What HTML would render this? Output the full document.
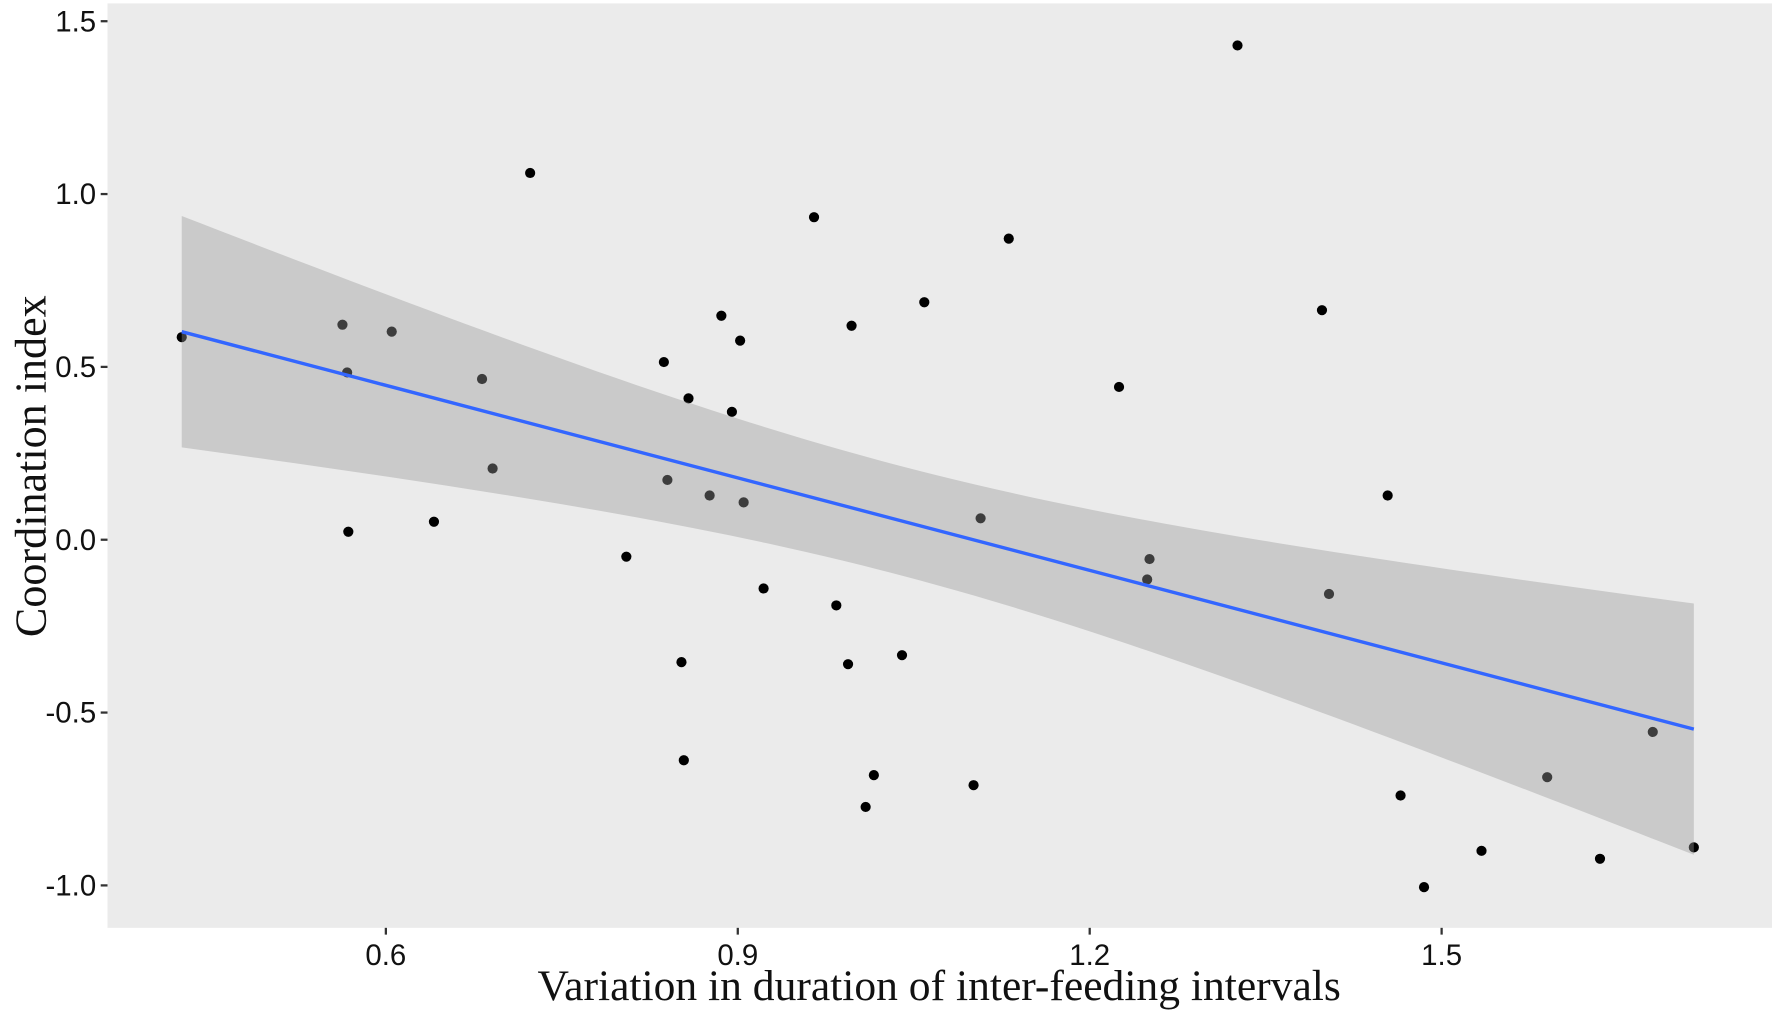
<!DOCTYPE html>
<html><head><meta charset="utf-8"><style>
body{margin:0;background:#fff;width:1772px;height:1011px;overflow:hidden}
svg{display:block}
</style></head><body>
<svg id="chart" width="1772" height="1011" viewBox="0 0 1566 893.5" preserveAspectRatio="none"></svg>
<script>
const xVals=[0.426,0.563,0.567,0.568,0.605,0.641,0.682,0.691,0.723,0.805,0.837,0.840,0.852,0.854,0.858,0.876,0.886,0.895,0.902,0.905,0.922,0.965,0.984,0.994,0.997,1.009,1.016,1.040,1.059,1.101,1.107,1.131,1.225,1.249,1.251,1.326,1.398,1.404,1.454,1.465,1.485,1.534,1.590,1.635,1.680,1.715];
const yVals=[0.586,0.622,0.484,0.023,0.602,0.052,0.465,0.206,1.061,-0.049,0.514,0.173,-0.354,-0.638,0.409,0.128,0.648,0.370,0.576,0.108,-0.141,0.933,-0.190,-0.360,0.619,-0.773,-0.681,-0.334,0.687,-0.710,0.062,0.871,0.442,-0.115,-0.056,1.430,0.664,-0.157,0.128,-0.740,-1.005,-0.900,-0.687,-0.923,-0.556,-0.890];
const xTicks=[0.6,0.9,1.2,1.5];
const xTickLabels=["0.6","0.9","1.2","1.5"];
const yTicks=[-1.0,-0.5,0.0,0.5,1.0,1.5];
const yTickLabels=["-1.0","-0.5","0.0","0.5","1.0","1.5"];

const NS="http://www.w3.org/2000/svg";
const svg=document.getElementById('chart');
const P={l:95,t:3,r:1566,b:820};
const sx=v=>341+(v-0.6)*1036.7;
const sy=v=>477-v*305.5;
function mk(tag,attrs,parent){const e=document.createElementNS(NS,tag);for(const k in attrs)e.setAttribute(k,attrs[k]);(parent||svg).appendChild(e);return e;}

const bg=mk('rect',{x:P.l,y:P.t,width:P.r-P.l,height:P.b-P.t,fill:'#ebebeb'});



xTicks.forEach((t,i)=>{
  const tk=mk('line',{x1:sx(t),x2:sx(t),y1:P.b,y2:P.b+6,stroke:'#333','stroke-width':2});
  
  
  const lb=mk('text',{x:sx(t),y:P.b+33,'text-anchor':'middle','font-family':'Liberation Sans, sans-serif','font-size':26,fill:'#111'});
  lb.textContent=xTickLabels[i];
  
  
});
yTicks.forEach((t,i)=>{
  const tk=mk('line',{x1:P.l-6,x2:P.l,y1:sy(t),y2:sy(t),stroke:'#333','stroke-width':2});
  
  
  const lb=mk('text',{x:P.l-10,y:sy(t)+9,'text-anchor':'end','font-family':'Liberation Sans, sans-serif','font-size':26,fill:'#111'});
  lb.textContent=yTickLabels[i];
  
  
});

xVals.forEach((x,i)=>{
  const c=mk('circle',{cx:sx(x),cy:sy(yVals[i]),r:4.5,fill:'#000'});
  
  
});

const n=xVals.length;
const mx=xVals.reduce((a,b)=>a+b,0)/n, my=yVals.reduce((a,b)=>a+b,0)/n;
let sxx=0,sxy=0;for(let i=0;i<n;i++){sxx+=(xVals[i]-mx)**2;sxy+=(xVals[i]-mx)*(yVals[i]-my);}
const b1=sxy/sxx,b0=my-b1*mx;
let sse=0;for(let i=0;i<n;i++)sse+=(yVals[i]-b0-b1*xVals[i])**2;
const s=Math.sqrt(sse/(n-2)),tq=2.015;
const xmin=Math.min(...xVals),xmax=Math.max(...xVals);
const up=[],lo=[];
for(let k=0;k<=80;k++){const x=xmin+(xmax-xmin)*k/80;const f=b0+b1*x;const se=s*Math.sqrt(1/n+(x-mx)**2/sxx);up.push([sx(x),sy(f+tq*se)]);lo.push([sx(x),sy(f-tq*se)]);}
const d='M'+up.map(p=>p.join(',')).join('L')+'L'+lo.reverse().map(p=>p.join(',')).join('L')+'Z';
const rib=mk('path',{d:d,fill:'#999999','fill-opacity':0.4});


const ln=mk('line',{x1:sx(xmin),y1:sy(b0+b1*xmin),x2:sx(xmax),y2:sy(b0+b1*xmax),stroke:'#3366ff','stroke-width':3});



const xt=mk('text',{x:830,y:884,'text-anchor':'middle','font-family':'Liberation Serif, serif','font-size':38.5,fill:'#111'});
xt.textContent='Variation in duration of inter-feeding intervals';


const yt=mk('text',{x:0,y:0,transform:'translate(40,412) rotate(-90)','text-anchor':'middle','font-family':'Liberation Serif, serif','font-size':39,fill:'#111'});
yt.textContent='Coordination index';


</script>
</body></html>
